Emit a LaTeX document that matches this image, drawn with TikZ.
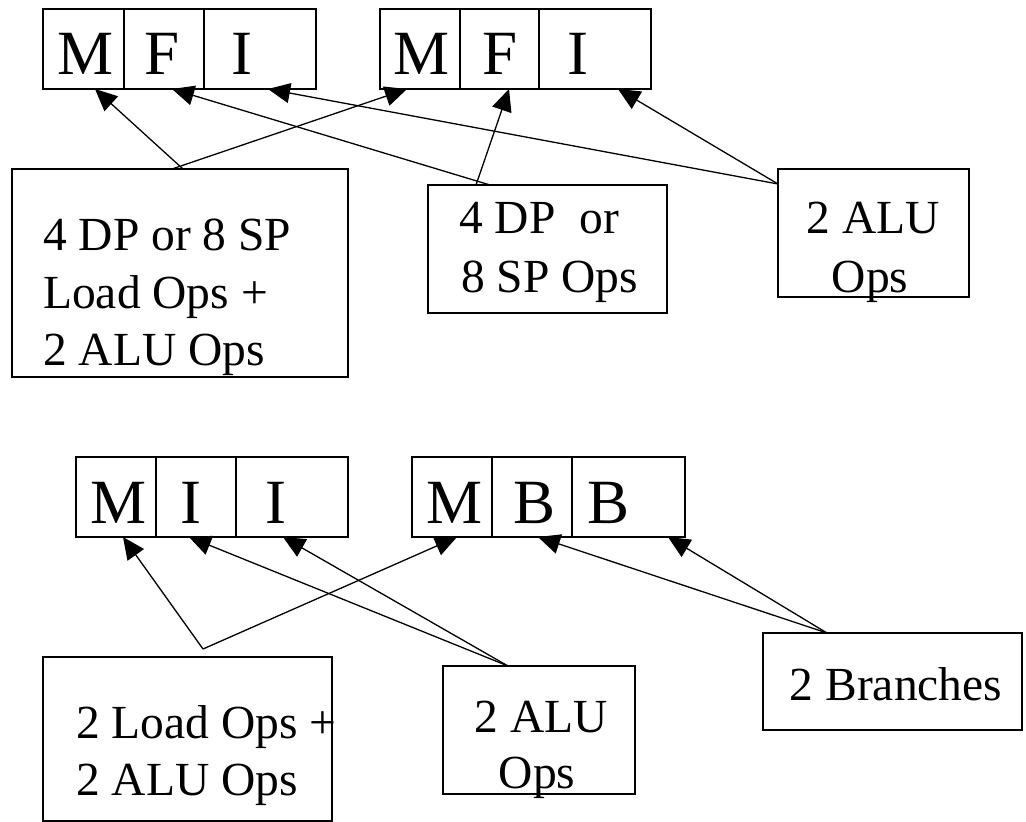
\documentclass[tikz,border=0pt]{standalone}
\usepackage{fontspec}
\setmainfont{Liberation Serif}
\usetikzlibrary{arrows.meta}
\begin{document}
\begin{tikzpicture}[x=1pt,y=-1pt,
  frame/.style={draw,line width=1.3pt,inner sep=0pt,outer sep=0pt,anchor=north west},
  slot/.style={font=\fontsize{63}{72}\selectfont,inner sep=0pt,anchor=base},
  txt/.style={font=\fontsize{47.5}{57}\selectfont,inner sep=0pt},
  conn/.style={line width=1.3pt,-{Triangle[length=22pt,width=20pt]}}]
\useasboundingbox[fill=white] (0,0) rectangle (1026,822);

% ---------- upper bundle pair: M F I | M F I ----------
\node[frame,minimum width=81pt,minimum height=80pt]  (A1) at (43,9)  {};
\node[frame,minimum width=80pt,minimum height=80pt]  (A2) at (124,9) {};
\node[frame,minimum width=112pt,minimum height=80pt] (A3) at (204,9) {};
\node[frame,minimum width=80pt,minimum height=80pt]  (B1) at (380,9) {};
\node[frame,minimum width=79pt,minimum height=80pt]  (B2) at (460,9) {};
\node[frame,minimum width=112pt,minimum height=80pt] (B3) at (539,9) {};
\node[slot] (lA1) at (86,74)  {M};
\node[slot] (lA2) at (162,74) {F};
\node[slot] (lA3) at (242,74) {I};
\node[slot] (lB1) at (422,74) {M};
\node[slot] (lB2) at (500,74) {F};
\node[slot] (lB3) at (578,74) {I};

% upper operation boxes
\node[frame,minimum width=336pt,minimum height=208pt] (L1) at (12,169) {};
\node[frame,minimum width=239pt,minimum height=128pt] (L2) at (428,185) {};
\node[frame,minimum width=191pt,minimum height=128pt] (L3) at (778,169) {};
\node[txt,anchor=base west] (L1a) at (43,250) {4 DP or 8 SP};
\node[txt,anchor=base west] (L1b) at (43,308) {Load Ops +};
\node[txt,anchor=base west] (L1c) at (43,365) {2 ALU Ops};
\node[txt,anchor=base west] (L2a) at (459,233) {4 DP\ \ or};
\node[txt,anchor=base west] (L2b) at (461,292) {8 SP Ops};
\node[txt,anchor=base] (L3a) at (873,233) {2 ALU};
\node[txt,anchor=base] (L3b) at (870,292) {Ops};

% upper connectors
\draw[conn] ([xshift=171pt]L1.north west) -- ([xshift=52pt]A1.south west);
\draw[conn] ([xshift=160pt]L1.north west) -- ([xshift=27pt]B1.south west);
\draw[conn] ([xshift=62pt]L2.north west)  -- ([xshift=48pt]A2.south west);
\draw[conn] ([xshift=48pt]L2.north west)  -- ([xshift=49pt]B2.south west);
\draw[conn] ([yshift=-15pt]L3.north west) -- ([xshift=64pt]A3.south west);
\draw[conn] ([yshift=-15pt]L3.north west) -- ([xshift=79pt]B3.south west);

% ---------- lower bundle pair: M I I | M B B ----------
\node[frame,minimum width=80pt,minimum height=80pt]  (C1) at (76,457)  {};
\node[frame,minimum width=80pt,minimum height=80pt]  (C2) at (156,457) {};
\node[frame,minimum width=112pt,minimum height=80pt] (C3) at (236,457) {};
\node[frame,minimum width=80pt,minimum height=80pt]  (D1) at (412,457) {};
\node[frame,minimum width=80pt,minimum height=80pt]  (D2) at (492,457) {};
\node[frame,minimum width=113pt,minimum height=80pt] (D3) at (572,457) {};
\node[slot] (lC1) at (119,523) {M};
\node[slot] (lC2) at (191,523) {I};
\node[slot] (lC3) at (276,523) {I};
\node[slot] (lD1) at (455,523) {M};
\node[slot] (lD2) at (535,523) {B};
\node[slot] (lD3) at (609,523) {B};

% lower operation boxes
\node[frame,minimum width=289pt,minimum height=164pt] (M1) at (43,657)  {};
\node[frame,minimum width=192pt,minimum height=128pt] (M2) at (443,666) {};
\node[frame,minimum width=259pt,minimum height=97pt]  (M3) at (763,633) {};
\node[txt,anchor=base west] (M1a) at (76,738) {2 Load Ops +};
\node[txt,anchor=base west] (M1b) at (76,795) {2 ALU Ops};
\node[txt,anchor=base] (M2a) at (541,732) {2 ALU};
\node[txt,anchor=base] (M2b) at (537,788) {Ops};
\node[txt,anchor=base] (M3a) at (896,700) {2 Branches};

% lower connectors
\coordinate (fork) at (203,649);
\draw[conn] (fork) -- ([xshift=47pt]C1.south west);
\draw[conn] (fork) -- ([xshift=45pt]D1.south west);
\draw[conn] ([xshift=65pt]M2.north west) -- ([xshift=33pt]C2.south west);
\draw[conn] ([xshift=65pt]M2.north west) -- ([xshift=47pt]C3.south west);
\draw[conn] ([xshift=64pt]M3.north west) -- ([xshift=46pt]D2.south west);
\draw[conn] ([xshift=64pt]M3.north west) -- ([xshift=96pt]D3.south west);
\end{tikzpicture}
\end{document}
